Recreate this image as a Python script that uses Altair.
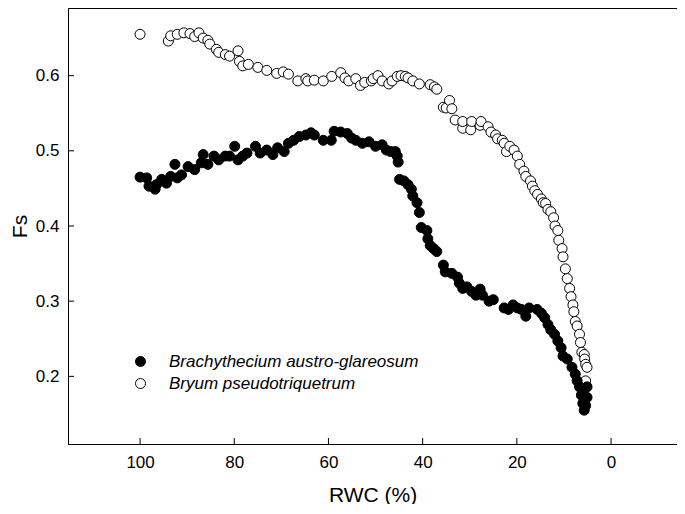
import altair as alt
import pandas as pd

# Bryum pseudotriquetrum (open circles)
bryum_rwc = [100, 94, 93.5, 92.1, 90.7, 89.4, 88.4, 87.5, 86.6, 85.6, 85.2, 83.8, 83.3, 81.9, 81.0,
             79.2, 78.9, 78.2, 77.0, 75.0, 73.1, 71.0, 69.6, 68.5, 66.5, 64.8, 64.4, 63.0, 61.1,
             59.3, 57.4, 56.5, 55.7, 54.2, 53.2, 52.3, 50.9, 50.5, 49.5, 48.6, 47.2, 46.5, 45.4,
             44.6, 43.7, 43.1, 42.1, 40.7, 38.4, 37.5, 37.0, 35.6, 35.0, 34.3, 33.8, 33.1, 31.5,
             31.5, 29.8, 29.6, 27.8, 27.6, 26.1, 25.5, 24.5, 24.1, 23.1, 22.7, 22.2, 21.5, 20.6,
             19.9, 19.4, 18.5, 18.1, 17.1, 16.7, 16.2, 15.6, 14.8, 14.4, 13.9, 13.4, 12.8, 12.2,
             11.9, 11.3, 11.1, 10.4, 10.2, 9.7, 9.3, 8.8, 8.5, 8.1, 7.9, 7.6, 7.2, 6.7, 6.5, 6.2,
             5.7, 5.6, 5.4, 5.1, 5.4]
bryum_fs = [0.655, 0.646, 0.653, 0.655, 0.657, 0.656, 0.652, 0.657, 0.650, 0.647, 0.642, 0.635, 0.631,
            0.628, 0.626, 0.633, 0.619, 0.613, 0.615, 0.611, 0.607, 0.603, 0.605, 0.602, 0.593, 0.596,
            0.593, 0.594, 0.593, 0.599, 0.604, 0.597, 0.593, 0.596, 0.587, 0.591, 0.593, 0.596, 0.600,
            0.593, 0.589, 0.593, 0.599, 0.600, 0.599, 0.597, 0.593, 0.589, 0.588, 0.585, 0.582, 0.558,
            0.557, 0.567, 0.556, 0.541, 0.530, 0.539, 0.528, 0.539, 0.534, 0.539, 0.532, 0.525, 0.521,
            0.516, 0.514, 0.510, 0.499, 0.506, 0.501, 0.493, 0.482, 0.473, 0.466, 0.460, 0.453, 0.447,
            0.442, 0.436, 0.431, 0.430, 0.422, 0.419, 0.411, 0.400, 0.394, 0.381, 0.370, 0.359, 0.343,
            0.330, 0.317, 0.306, 0.295, 0.286, 0.273, 0.267, 0.256, 0.245, 0.232, 0.229, 0.223, 0.216,
            0.212, 0.194]

# Brachythecium austro-glareosum (filled circles)
brach_rwc = [100, 98.6, 98.1, 96.8, 96.5, 95.4, 94.4, 93.5, 92.6, 92.1, 91.2, 89.8, 88.4, 87.0, 86.6,
             85.6, 84.3, 83.3, 81.9, 81.0, 79.9, 79.2, 78.2, 77.3, 75.5, 74.5, 73.1, 71.8, 70.8, 69.4,
             68.5, 67.4, 66.2, 64.8, 63.7, 63.0, 61.1, 59.4, 58.8, 57.4, 56.0, 55.1, 54.2, 52.8, 51.4,
             50.0, 48.6, 47.7, 46.8, 45.8, 45.4, 45.2, 44.9, 44.0, 43.1, 42.4, 42.1, 41.2, 40.7, 40.3,
             39.1, 38.9, 38.4, 37.7, 37.0, 35.6, 35.2, 33.8, 32.6, 32.2, 31.5, 30.6, 29.6, 28.7, 27.8,
             27.3, 25.9, 25.0, 22.7, 21.8, 20.8, 19.9, 19.0, 18.1, 17.4, 15.7, 14.8, 14.1, 13.4, 12.8,
             12.0, 11.3, 10.6, 10.2, 9.3, 8.3, 7.6, 7.2, 6.7, 6.3, 6.0, 5.7, 5.4, 5.1, 5.1, 5.6, 6.0]
brach_fs = [0.465, 0.464, 0.453, 0.449, 0.455, 0.462, 0.457, 0.466, 0.482, 0.464, 0.468, 0.479, 0.475,
            0.484, 0.495, 0.482, 0.493, 0.488, 0.493, 0.493, 0.506, 0.488, 0.493, 0.497, 0.506, 0.497,
            0.501, 0.495, 0.504, 0.499, 0.510, 0.514, 0.519, 0.521, 0.524, 0.521, 0.514, 0.514, 0.526,
            0.525, 0.523, 0.517, 0.514, 0.510, 0.512, 0.506, 0.508, 0.501, 0.499, 0.499, 0.493, 0.485,
            0.462, 0.460, 0.455, 0.449, 0.440, 0.431, 0.418, 0.398, 0.394, 0.383, 0.374, 0.370, 0.366,
            0.348, 0.339, 0.337, 0.332, 0.324, 0.317, 0.319, 0.313, 0.308, 0.316, 0.308, 0.300, 0.302,
            0.291, 0.289, 0.295, 0.291, 0.289, 0.280, 0.291, 0.289, 0.284, 0.278, 0.269, 0.262, 0.256,
            0.247, 0.238, 0.227, 0.223, 0.212, 0.203, 0.194, 0.186, 0.175, 0.164, 0.155, 0.161, 0.186,
            0.172, 0.168, 0.177]

series_names = ["Brachythecium austro-glareosum", "Bryum pseudotriquetrum"]
x_ticks = [100, 80, 60, 40, 20, 0]
y_ticks = [0.2, 0.3, 0.4, 0.5, 0.6]

df = pd.concat([
    pd.DataFrame({"RWC": brach_rwc, "Fs": brach_fs, "species": series_names[0]}),
    pd.DataFrame({"RWC": bryum_rwc, "Fs": bryum_fs, "species": series_names[1]}),
])

W, H = 609, 436
FONT = "Liberation Sans"
xscale = alt.Scale(domain=[115.3, -14.0], nice=False, zero=False)
yscale = alt.Scale(domain=[0.11, 0.69], nice=False, zero=False)

points = alt.Chart(df).mark_point(
    shape="circle", filled=True, size=100, stroke="black", strokeWidth=1, opacity=1
).encode(
    x=alt.X("RWC:Q", scale=xscale,
            axis=alt.Axis(values=x_ticks, title="RWC (%)", ticks=False, grid=False,
                          labelPadding=10, titlePadding=14, format="d")),
    y=alt.Y("Fs:Q", scale=yscale,
            axis=alt.Axis(values=y_ticks, title="Fs", ticks=False, grid=False,
                          labelPadding=9, titlePadding=5, format=".1f")),
    fill=alt.Fill("species:N",
                  scale=alt.Scale(domain=series_names, range=["black", "white"]),
                  legend=alt.Legend(title=None, orient="none", legendX=64, legendY=345,
                                    symbolType="circle", symbolSize=100, symbolStrokeColor="black",
                                    symbolStrokeWidth=1, labelFont=FONT, labelFontSize=17,
                                    labelFontStyle="italic", labelOffset=20, rowPadding=4,
                                    labelLimit=0, labelColor="black", padding=0)),
    order=alt.Order("species:N", sort="descending"),
)

xt = pd.DataFrame({"t": x_ticks})
yt = pd.DataFrame({"t": y_ticks})
xtick_marks = alt.Chart(xt).mark_rule(color="black", strokeWidth=1).encode(
    x=alt.X("t:Q", scale=xscale), y=alt.value(H), y2=alt.value(H - 6))
ytick_marks = alt.Chart(yt).mark_rule(color="black", strokeWidth=1).encode(
    y=alt.Y("t:Q", scale=yscale), x=alt.value(0), x2=alt.value(6))

chart = alt.layer(points, xtick_marks, ytick_marks).properties(
    width=W, height=H,
    autosize=alt.AutoSizeParams(type="none"),
    padding={"left": 60, "top": 0, "right": 0, "bottom": 60},
).configure_view(
    stroke="black", strokeWidth=1
).configure_axis(
    domainColor="black", labelColor="black", titleColor="black",
    labelFont=FONT, titleFont=FONT, labelFontSize=17, titleFontSize=21,
    titleFontWeight="normal",
)

chart.save("out.html", embed_options={"renderer": "svg", "actions": False})
